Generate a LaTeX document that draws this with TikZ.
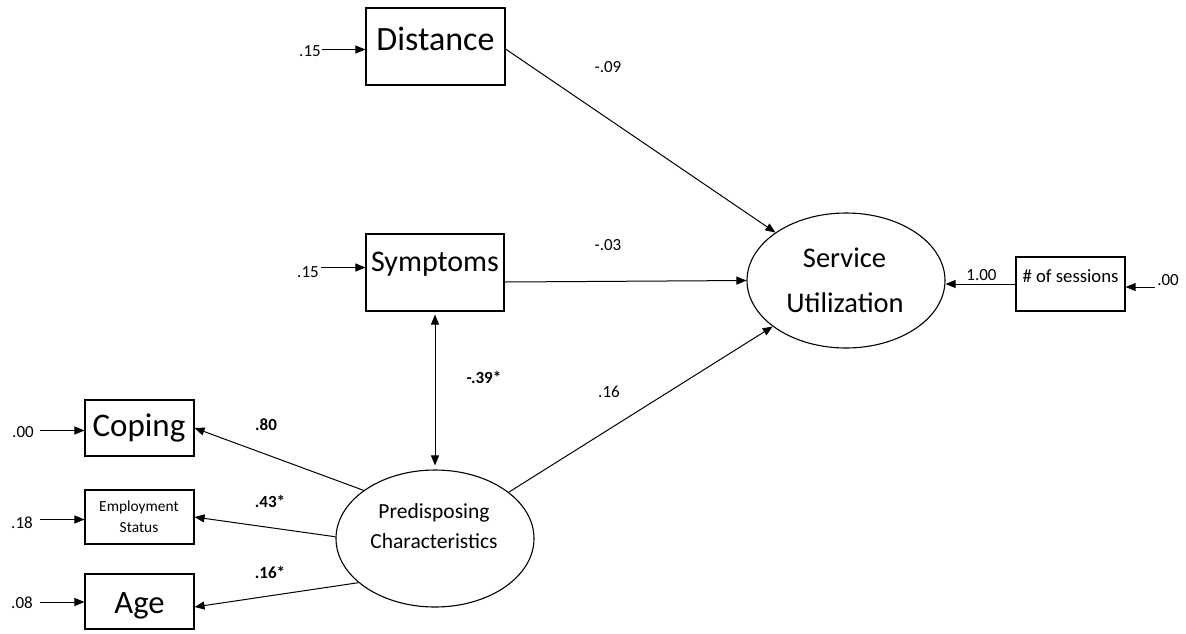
\documentclass[tikz,border=0pt]{standalone}
\usepackage{fontspec}
\setmainfont{Carlito}
\usetikzlibrary{arrows.meta,shapes.geometric}
\begin{document}
\begin{tikzpicture}[x=1pt,y=-1pt,line width=1pt,
  box/.style={draw,line width=1.1pt,inner sep=0pt},
  oval/.style={draw,ellipse,line width=1.1pt,inner sep=0pt,minimum width=198pt},
  txt/.style={anchor=base,inner sep=0pt},
  lbl/.style={anchor=base,inner sep=0pt,font=\fontsize{17}{19}\selectfont},
  blbl/.style={anchor=base,inner sep=0pt,font=\fontsize{17}{19}\selectfont\bfseries},
  arr/.style={-{Triangle[length=10pt,width=8pt]}},
  dblarr/.style={{Triangle[length=10pt,width=8pt]}-{Triangle[length=10pt,width=8pt]}}]
\useasboundingbox (0,0) rectangle (1186,633);
% boxes and ovals
\node[box,minimum width=139pt,minimum height=77pt] (dist) at (435.5,46.5) {};
\node[box,minimum width=138pt,minimum height=77pt] (symp) at (435,272.5) {};
\node[box,minimum width=109pt,minimum height=56pt] (coping) at (139.5,428) {};
\node[box,minimum width=109pt,minimum height=54pt] (emp) at (139.5,517) {};
\node[box,minimum width=109pt,minimum height=55pt] (age) at (139.5,601.5) {};
\node[box,minimum width=109pt,minimum height=54pt] (sess) at (1070.5,284) {};
\node[oval,minimum height=135pt] (su) at (846,280.5) {};
\node[oval,minimum height=137pt] (pred) at (435,538.5) {};
% texts
\node[txt,font=\fontsize{34}{36}\selectfont] (distT) at (435.5,50) {Distance};
\node[txt,font=\fontsize{30}{32}\selectfont] (sympT) at (435,271.7) {Symptoms};
\node[txt,font=\fontsize{33}{35}\selectfont] (copT) at (139,436.7) {Coping};
\node[txt,font=\fontsize{15.4}{17}\selectfont] (empT1) at (139,511) {Employment};
\node[txt,font=\fontsize{15.4}{17}\selectfont] (empT2) at (139,532.7) {Status};
\node[txt,font=\fontsize{32.6}{35}\selectfont] (ageT) at (139.5,613) {Age};
\node[txt,font=\fontsize{18.7}{20}\selectfont] (sessT) at (1070.5,282) {\# of sessions};
\node[txt,font=\fontsize{28.5}{30}\selectfont] (suT1) at (844.5,267.5) {Service};
\node[txt,font=\fontsize{28.5}{30}\selectfont] (suT2) at (845,312) {Utilization};
\node[txt,font=\fontsize{21.5}{23}\selectfont] (predT1) at (434,518.3) {Predisposing};
\node[txt,font=\fontsize{21.5}{23}\selectfont] (predT2) at (434,548) {Characteristics};
% labels
\node[lbl] (l1) at (310,56) {.15};
\node[lbl] (l2) at (308,277) {.15};
\node[lbl] (l3) at (23,437) {.00};
\node[lbl] (l4) at (22,528) {.18};
\node[lbl] (l5) at (22,608) {.08};
\node[lbl] (l6) at (981.5,280) {1.00};
\node[lbl] (l7) at (1168,285) {.00};
\node[lbl] (w1) at (608,72) {-.09};
\node[lbl] (w2) at (608,250) {-.03};
\node[lbl] (w3) at (609,397) {.16};
\node[blbl] (b1) at (266,430) {.80};
\node[blbl] (b2) at (270,507) {.43*};
\node[blbl] (b3) at (270,578) {.16*};
\node[blbl] (b4) at (484,383) {-.39*};
% error-term starts
\coordinate (e1) at (322,49.5);
\coordinate (e2) at (321,267.5);
\coordinate (e3) at (40,430.5);
\coordinate (e4) at (40,519.5);
\coordinate (e5) at (40,602);
\coordinate (e6) at (1155,287);
\draw[arr] (e1) -- (e1 -| dist.west);
\draw[arr] (e2) -- (e2 -| symp.west);
\draw[arr] (e3) -- (e3 -| coping.west);
\draw[arr] (e4) -- (e4 -| emp.west);
\draw[arr] (e5) -- (e5 -| age.west);
\draw[arr] (e6) -- (e6 -| sess.east);
% paths
\draw[arr] ([yshift=-2.5pt]dist.east) -- (su);
\draw[arr] ([yshift=-9.5pt]symp.east) -- (su.west);
\draw[arr] (pred) -- (su);
\draw[arr] (sess.west) -- (sess.west -| su.east);
\draw[dblarr,shorten <=3pt,shorten >=4pt] (symp.south) -- (pred.north);
\draw[arr] (pred.146) -- (coping.east);
\draw[arr] (pred.179) -- (emp.east);
\draw[arr] (pred.210) -- ([yshift=-5.5pt]age.east);
\end{tikzpicture}
\end{document}
